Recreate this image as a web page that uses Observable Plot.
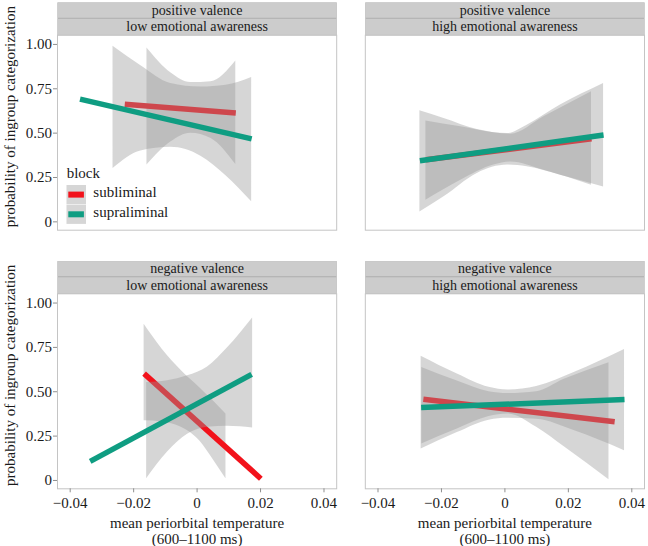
<!DOCTYPE html>
<html><head><meta charset="utf-8">
<script src="https://cdn.jsdelivr.net/npm/d3@7"></script>
<script src="https://cdn.jsdelivr.net/npm/@observablehq/plot@0.6"></script>
<style>
html,body{margin:0;padding:0;background:#fff;}
#chart{position:relative;width:648px;height:546px;font-family:"Liberation Serif",serif;}
#chart svg, #chart svg text, #chart svg tspan{font-family:"Liberation Serif",serif !important;}
#legend{position:absolute;left:60px;top:160px;}
</style></head><body><div id="chart"></div>
<script>
// ---- categories ----
const valenceLevels = ["positive valence", "negative valence"];
const awarenessLevels = ["low emotional awareness", "high emotional awareness"];
const blocks = ["subliminal", "supraliminal"];
// panel order: TL, TR, BL, BR
const panelValence = ["positive valence", "positive valence", "negative valence", "negative valence"];
const panelAwareness = ["low emotional awareness", "high emotional awareness", "low emotional awareness", "high emotional awareness"];

// ---- fitted lines (endpoints) ----
const subLineX = [[-0.0228, 0.0122], [-0.0249, 0.0273], [-0.0167, 0.0201], [-0.0257, 0.0346]];
const subLineY = [[0.663, 0.614], [0.350, 0.468], [0.602, 0.010], [0.458, 0.331]];
const supLineX = [[-0.0369, 0.0172], [-0.0268, 0.0311], [-0.0337, 0.0172], [-0.0264, 0.0377]];
const supLineY = [[0.692, 0.468], [0.344, 0.489], [0.108, 0.598], [0.411, 0.456]];

// ---- confidence bands ----
const subBandX = [
  [-0.0158, -0.0083, -0.0020, 0.0044, 0.0122],
  [-0.0249, -0.0139, -0.0035, 0.0018, 0.0123, 0.0273],
  [-0.0167, -0.0110, -0.0050, 0.0010, 0.0050, 0.0091],
  [-0.0262, -0.0150, -0.0050, 0.0010, 0.0100, 0.0187, 0.0328]
];
const subBandLo = [
  [0.320, 0.450, 0.500, 0.470, 0.323],
  [0.122, 0.235, 0.320, 0.338, 0.291, 0.207],
  [0.336, 0.330, 0.300, 0.220, 0.120, 0.010],
  [0.206, 0.290, 0.360, 0.375, 0.300, 0.190, 0.004]
];
const subBandHi = [
  [0.980, 0.840, 0.785, 0.790, 0.907],
  [0.569, 0.536, 0.502, 0.494, 0.592, 0.733],
  [0.880, 0.740, 0.620, 0.520, 0.450, 0.374],
  [0.636, 0.560, 0.500, 0.490, 0.500, 0.570, 0.664]
];
const supBandX = [
  [-0.0265, -0.0177, -0.0083, 0.0012, 0.0091, 0.0172],
  [-0.0268, -0.0192, -0.0087, 0.0008, 0.0070, 0.0175, 0.0311],
  [-0.0159, -0.0093, -0.0030, 0.0033, 0.0096, 0.0175],
  [-0.0264, -0.0150, -0.0050, 0.0010, 0.0100, 0.0220, 0.0377]
];
const supBandLo = [
  [0.300, 0.400, 0.420, 0.370, 0.260, 0.113],
  [0.056, 0.141, 0.273, 0.320, 0.310, 0.263, 0.197],
  [0.010, 0.160, 0.260, 0.300, 0.305, 0.295],
  [0.178, 0.270, 0.340, 0.350, 0.345, 0.280, 0.168]
];
const supBandHi = [
  [0.990, 0.880, 0.780, 0.760, 0.770, 0.814],
  [0.626, 0.583, 0.521, 0.498, 0.545, 0.658, 0.780],
  [0.552, 0.562, 0.590, 0.640, 0.748, 0.916],
  [0.700, 0.600, 0.525, 0.510, 0.530, 0.610, 0.738]
];

// ---- ticks & titles ----
const xTickValues = [-0.04, -0.02, 0, 0.02, 0.04];
const yTickValues = [0, 0.25, 0.5, 0.75, 1];
const yTitle = "probability of ingroup categorization";
const xTitleLines = ["mean periorbital temperature", "(600–1100 ms)"];
const legendTitle = "block";

// ---- build tables ----
const panelRows = panelValence.map((v, i) => ({valence: v, awareness: panelAwareness[i]}));
function lineRows(xs, ys, block) {
  return xs.flatMap((pair, i) => pair.map((x, j) => ({valence: panelValence[i], awareness: panelAwareness[i], block, x, y: ys[i][j]})));
}
function bandRows(xs, lo, hi, block) {
  return xs.flatMap((arr, i) => arr.map((x, j) => ({valence: panelValence[i], awareness: panelAwareness[i], block, x, lo: lo[i][j], hi: hi[i][j]})));
}
const subLine = lineRows(subLineX, subLineY, blocks[0]);
const supLine = lineRows(supLineX, supLineY, blocks[1]);
const subBand = bandRows(subBandX, subBandLo, subBandHi, blocks[0]);
const supBand = bandRows(supBandX, supBandLo, supBandHi, blocks[1]);

const colors = {subliminal: "#f2121b", supraliminal: "#0f9d82"};
const W = 648, H = 546, mt = 34.7, mb = 57.7, ml = 57, mr = 4;
const fyPad = 0.246, fxPad = 0.093;
const bw = (H - mt - mb) * (1 - fyPad) / (2 - fyPad);
const stripH = 32.7, stripSplit = 17.0;
const fmt = d => d === 0 ? "0" : d3.format(".2f")(d);
const serifFont = "Liberation Serif, serif";

const chart = Plot.plot({
  width: W, height: H,
  marginTop: mt, marginBottom: mb, marginLeft: ml, marginRight: mr,
  style: {fontFamily: serifFont, fontSize: "15px", color: "#1a1a1a", background: "#fff", overflow: "visible"},
  fx: {domain: awarenessLevels, paddingInner: fxPad, paddingOuter: 0, round: false, axis: null, label: null},
  fy: {domain: valenceLevels, paddingInner: fyPad, paddingOuter: 0, round: false, axis: null, label: null},
  x: {domain: [-0.044, 0.044], label: null},
  y: {domain: [-0.047, 1.052], label: null},
  marks: [
    Plot.frame({fill: "#a6a6a6", stroke: "none", insetTop: -stripH, insetBottom: bw}),
    Plot.frame({fill: "#cccccc", stroke: "none", insetTop: -stripH, insetBottom: bw + stripSplit + 0.4}),
    Plot.frame({fill: "#cccccc", stroke: "none", insetTop: -(stripSplit - 0.4), insetBottom: bw}),
    Plot.frame({stroke: "#c4c4c4", strokeWidth: 1}),
    Plot.areaY(subBand, {fx: "awareness", fy: "valence", x: "x", y1: "lo", y2: "hi", fill: "#999999", fillOpacity: 0.4, curve: "monotone-x"}),
    Plot.line(subLine, {fx: "awareness", fy: "valence", x: "x", y: "y", stroke: colors.subliminal, strokeWidth: 5.5, strokeLinecap: "butt"}),
    Plot.areaY(supBand, {fx: "awareness", fy: "valence", x: "x", y1: "lo", y2: "hi", fill: "#999999", fillOpacity: 0.4, curve: "monotone-x"}),
    Plot.line(supLine, {fx: "awareness", fy: "valence", x: "x", y: "y", stroke: colors.supraliminal, strokeWidth: 5.5, strokeLinecap: "butt"}),
    Plot.axisY({ticks: yTickValues, tickFormat: fmt, tickSize: 4, tickPadding: 1.5, stroke: "#8f8f8f", fill: "#1a1a1a", fontSize: 15, label: null}),
    Plot.axisX({ticks: xTickValues, tickFormat: fmt, tickSize: 4, tickPadding: 4.5, stroke: "#8f8f8f", fill: "#1a1a1a", fontSize: 15, label: null}),
    Plot.text(panelRows, {fx: "awareness", fy: "valence", text: "valence", frameAnchor: "top", lineAnchor: "middle", textAnchor: "middle", dy: -25.0, fontSize: 14, fill: "#1a1a1a"}),
    Plot.text(panelRows, {fx: "awareness", fy: "valence", text: "awareness", frameAnchor: "top", lineAnchor: "middle", textAnchor: "middle", dy: -8.3, fontSize: 14, fill: "#1a1a1a"}),
    Plot.text(panelRows.filter(d => d.awareness === awarenessLevels[0]), {fx: "awareness", fy: "valence", text: () => yTitle, frameAnchor: "left", rotate: -90, textAnchor: "middle", lineAnchor: "middle", dx: -47.5, dy: -16, fontSize: 15, fill: "#1a1a1a"}),
    Plot.text(panelRows.filter(d => d.valence === valenceLevels[1]), {fx: "awareness", fy: "valence", text: () => xTitleLines.join("\n"), frameAnchor: "bottom", textAnchor: "middle", lineAnchor: "middle", lineHeight: 1.1, dy: 41.7, fontSize: 15, fill: "#1a1a1a"})
  ]
});
document.getElementById("chart").appendChild(chart);

// ---- legend (inside top-left panel) ----
const leg = d3.select("#chart").append("svg").attr("id", "legend")
  .attr("width", 120).attr("height", 70)
  .style("font-family", serifFont).style("font-size", "15px");
leg.append("text").attr("x", 6.7).attr("y", 18).attr("fill", "#1a1a1a").text(legendTitle);
blocks.forEach((b, i) => {
  const y0 = 25 + i * 19.7;
  leg.append("rect").attr("x", 6.5).attr("y", y0).attr("width", 19.5).attr("height", 19.2).attr("fill", "#d6d6d6");
  leg.append("rect").attr("x", 8.3).attr("y", y0 + 6.6).attr("width", 15.6).attr("height", 6).attr("fill", colors[b]);
  leg.append("text").attr("x", 33.3).attr("y", y0 + 12.3).attr("fill", "#1a1a1a").text(b);
});
</script></body></html>
